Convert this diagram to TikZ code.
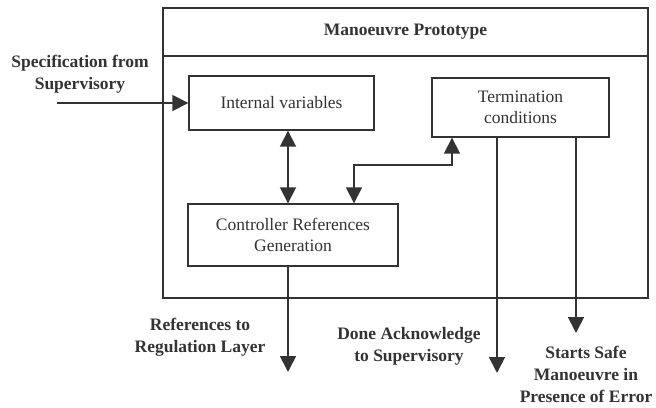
\documentclass[tikz,border=0pt]{standalone}
\usepackage{fontspec}
\setmainfont{Liberation Serif}
\usetikzlibrary{arrows.meta}
\definecolor{ink}{HTML}{333333}
\tikzset{
  box/.style={draw=ink, line width=1.4pt, rectangle, align=center, text=ink,
    font=\fontsize{17.5}{21.5}\selectfont, inner sep=0pt},
  lbl/.style={align=center, text=ink, font=\bfseries\fontsize{17.5}{22}\selectfont},
  link/.style={draw=ink, line width=1.8pt},
  tip/.style={-{Triangle[length=16pt,width=16pt]}},
  tips/.style={{Triangle[length=16pt,width=16pt]}-{Triangle[length=16pt,width=16pt]}}
}
\begin{document}
\begin{tikzpicture}[x=1pt,y=-1pt]
\useasboundingbox (0,0) rectangle (656,407);
% frame of the prototype and its heading
\node[box, minimum width=485pt, minimum height=290pt] (proto) at (405.5,153) {};
\node[box, minimum width=485pt, minimum height=48pt, font=\bfseries\fontsize{17.5}{21.5}\selectfont] (title) at (405.5,32) {Manoeuvre Prototype};
% inner blocks
\node[box, minimum width=185pt, minimum height=54pt] (iv) at (281.5,103) {Internal variables};
\node[box, minimum width=177pt, minimum height=59pt] (tc) at (520.5,107.5) {Termination\\conditions};
\node[box, minimum width=210pt, minimum height=62pt] (crg) at (293,235) {Controller References\\Generation};
% outside labels
\node[lbl] (spec) at (80,74) {Specification from\\Supervisory};
\node[lbl] (refs) at (200,337) {References to\\Regulation Layer};
\node[lbl] (done) at (409,346) {Done Acknowledge\\to Supervisory};
\node[lbl] (safe) at (586,374) {Starts Safe\\Manoeuvre in\\Presence of Error};
% free ends of the connectors
\coordinate (specin) at (57,103);
\coordinate (refout) at (288,372);
\coordinate (doneout) at (497,373);
\coordinate (safeout) at (576,333);
\coordinate (bend) at (354,165);
% connectors
\draw[link, tip] (specin) -- (iv.west |- specin);
\draw[link, tips] (iv.south -| 288,0) -- (crg.north -| 288,0);
\draw[link, tips] (crg.north -| bend) -- (bend) -| (tc.south -| 452,0);
\draw[link, tip] (crg.south -| refout) -- (refout);
\draw[link, tip] (tc.south -| doneout) -- (doneout);
\draw[link, tip] (tc.south -| safeout) -- (safeout);
\end{tikzpicture}
\end{document}
